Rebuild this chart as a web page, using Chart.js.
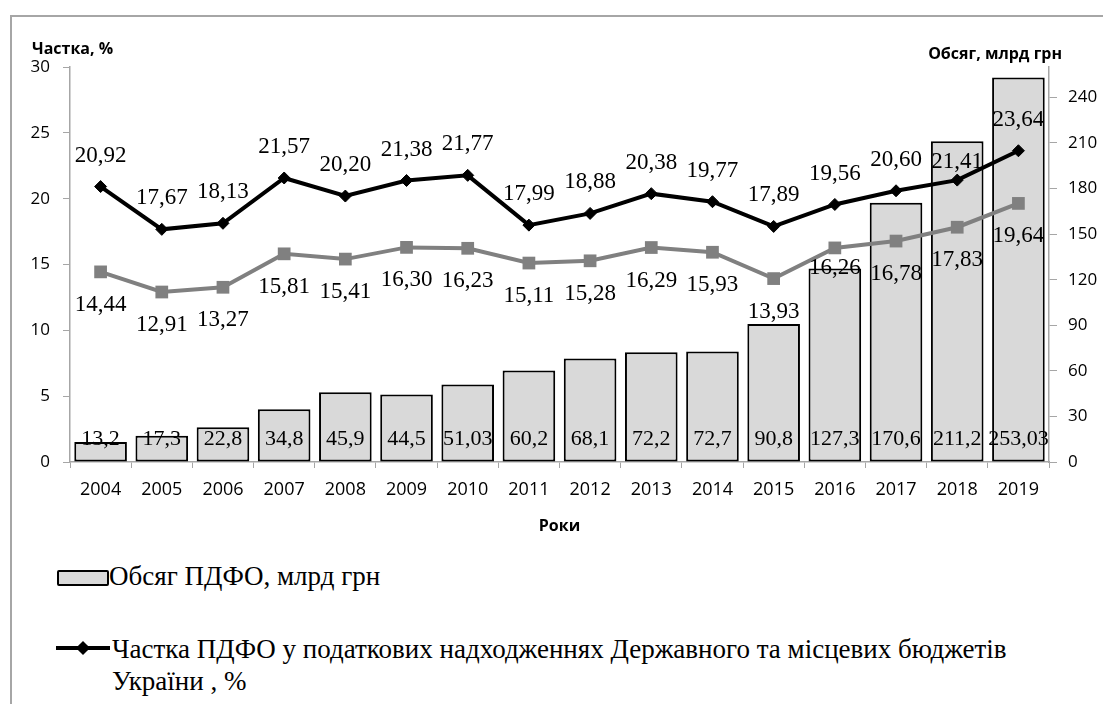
<!DOCTYPE html>
<html>
<head>
<meta charset="UTF-8">
<title>Обсяг і частка ПДФО</title>
<script src="https://cdn.jsdelivr.net/npm/chart.js@4.4.1/dist/chart.umd.min.js"></script>
<style>
    body { margin: 0; background: #fff; width: 1103px; height: 704px; overflow: hidden; position: relative; }
    #frame { position: absolute; left: 10px; top: 15px; width: 1300px; height: 900px;
             border-left: 2px solid #a6a6a6; border-top: 2px solid #a6a6a6; }
    #wrap { position: absolute; left: 0; top: 0; width: 1103px; height: 545px; }
    .leg { position: absolute; font-family: "Liberation Serif", serif; font-size: 27px; line-height: 32px; color: #000; white-space: nowrap; }
    .sw-bar { position: absolute; left: 57px; top: 570px; width: 48px; height: 12px; background: #d9d9d9; border: 2px solid #000; border-radius: 2px; }
    .sw-line { position: absolute; left: 56px; top: 646px; width: 54px; height: 4px; background: #000; }
    .sw-dia { position: absolute; left: 78px; top: 643px; width: 10px; height: 10px; background: #000; transform: rotate(45deg); }
</style>
<script>
    // data
    var years = ['2004', '2005', '2006', '2007', '2008', '2009', '2010', '2011',
                 '2012', '2013', '2014', '2015', '2016', '2017', '2018', '2019'];
    var volume = [13.2, 17.3, 22.8, 34.8, 45.9, 44.5, 51.03, 60.2, 68.1, 72.2, 72.7, 90.8, 127.3, 170.6, 211.2, 253.03];
    var shareBudget = [20.92, 17.67, 18.13, 21.57, 20.20, 21.38, 21.77, 17.99, 18.88, 20.38, 19.77, 17.89, 19.56, 20.60, 21.41, 23.64];
    var shareOther = [14.44, 12.91, 13.27, 15.81, 15.41, 16.30, 16.23, 15.11, 15.28, 16.29, 15.93, 13.93, 16.26, 16.78, 17.83, 19.64];
    var leftTicks = [0, 5, 10, 15, 20, 25, 30];
    var rightTicks = [0, 30, 60, 90, 120, 150, 180, 210, 240];

    var volumeLabel = 'Обсяг ПДФО, млрд грн';
    var shareBudgetLabel = 'Частка ПДФО у податкових надходженнях Державного та місцевих бюджетів України , %';
    var shareOtherLabel = 'Частка ПДФО, %';
    var leftTitle = 'Частка, %';
    var rightTitle = 'Обсяг, млрд грн';
    var xTitle = 'Роки';

    var sansFont = '"Open Sans", sans-serif';
    var serifFont = '"Liberation Serif", serif';
    var axisGray = '#a6a6a6';

    function fmt(v, digits) {
        var s = digits === undefined ? String(v) : v.toFixed(digits);
        return s.replace('.', ',');
    }

    // label placement relative to each mark (px); a couple of labels were moved by hand in the original
    var labelOpts = [
        { inBar: true, dy: -22, font: '22px ' + serifFont },
        { dy: -31, font: '23px ' + serifFont, digits: 2, shift: { 14: 13 } },
        { dy: 33, font: '23px ' + serifFont, digits: 2, shift: { 12: -13 } }
    ];

    var valueLabels = {
        id: 'valueLabels',
        afterDatasetsDraw: function (chart) {
            var ctx = chart.ctx;
            chart.data.datasets.forEach(function (ds, i) {
                var o = labelOpts[i];
                var meta = chart.getDatasetMeta(i);
                ctx.save();
                ctx.font = o.font;
                ctx.fillStyle = '#000';
                ctx.textAlign = 'center';
                ctx.textBaseline = 'middle';
                meta.data.forEach(function (el, j) {
                    var y = o.inBar ? el.base + o.dy : el.y + o.dy + ((o.shift && o.shift[j]) || 0);
                    ctx.fillText(fmt(ds.data[j], o.digits), el.x, y);
                });
                ctx.restore();
            });
        }
    };

    var axisTitles = {
        id: 'axisTitles',
        afterDraw: function (chart) {
            var ctx = chart.ctx;
            ctx.save();
            ctx.font = 'bold 16px ' + sansFont;
            ctx.fillStyle = '#000';
            ctx.textBaseline = 'middle';
            ctx.textAlign = 'left';
            ctx.fillText(leftTitle, 32, 49);
            ctx.textAlign = 'right';
            ctx.fillText(rightTitle, 1062, 54);
            ctx.restore();
        }
    };

    function ready(fn) {
        if (document.readyState !== 'loading') fn();
        else document.addEventListener('DOMContentLoaded', fn);
    }

    ready(function () {
        var ctx = document.getElementById('chart').getContext('2d');
        new Chart(ctx, {
            type: 'bar',
            data: {
                labels: years,
                datasets: [
                    {
                        label: volumeLabel,
                        data: volume,
                        yAxisID: 'y1',
                        backgroundColor: '#d9d9d9',
                        borderColor: '#000',
                        borderWidth: 2,
                        borderSkipped: false,
                        barPercentage: 0.86,
                        categoryPercentage: 1,
                        order: 3
                    },
                    {
                        type: 'line',
                        label: shareBudgetLabel,
                        data: shareBudget,
                        yAxisID: 'y',
                        borderColor: '#000',
                        backgroundColor: '#000',
                        borderWidth: 4,
                        pointStyle: 'rectRot',
                        pointRadius: 6,
                        pointBorderWidth: 1,
                        tension: 0,
                        order: 1
                    },
                    {
                        type: 'line',
                        label: shareOtherLabel,
                        data: shareOther,
                        yAxisID: 'y',
                        borderColor: '#808080',
                        backgroundColor: '#808080',
                        borderWidth: 4,
                        pointStyle: 'rect',
                        pointRadius: 9,
                        pointBorderWidth: 0,
                        tension: 0,
                        order: 2
                    }
                ]
            },
            options: {
                responsive: true,
                maintainAspectRatio: false,
                animation: false,
                layout: { padding: { top: 67, left: 0, right: 0, bottom: 0 } },
                plugins: {
                    legend: { display: false },
                    tooltip: { enabled: false }
                },
                scales: {
                    x: {
                        offset: true,
                        grid: { offset: true, drawOnChartArea: false, tickLength: 6, color: axisGray },
                        border: { color: axisGray, width: 1.5 },
                        ticks: { color: '#000', font: { family: sansFont, size: 18 }, padding: 11, maxRotation: 0 },
                        title: { display: true, text: xTitle, color: '#000', font: { family: sansFont, size: 16, weight: 'bold' }, padding: { top: 6, bottom: 9 } },
                        afterFit: function (s) { s.height = 83; }
                    },
                    y: {
                        position: 'left',
                        min: leftTicks[0],
                        max: leftTicks[leftTicks.length - 1],
                        afterBuildTicks: function (s) { s.ticks = leftTicks.map(function (v) { return { value: v }; }); },
                        grid: { drawOnChartArea: false, tickLength: 7, color: axisGray },
                        border: { color: axisGray, width: 1.5 },
                        ticks: { color: '#000', font: { family: sansFont, size: 17 }, padding: 13 },
                        afterFit: function (s) { s.width = 70; }
                    },
                    y1: {
                        position: 'right',
                        min: 0,
                        max: 260,
                        afterBuildTicks: function (s) { s.ticks = rightTicks.map(function (v) { return { value: v }; }); },
                        grid: { drawOnChartArea: false, tickLength: 8, color: axisGray },
                        border: { color: axisGray, width: 1.5 },
                        ticks: { color: '#000', font: { family: sansFont, size: 17 }, padding: 11 },
                        afterFit: function (s) { s.width = 54; }
                    }
                }
            },
            plugins: [valueLabels, axisTitles]
        });
    });
</script>
</head>
<body>
    <div id="frame"></div>
    <div id="wrap"><canvas id="chart"></canvas></div>
    <div class="sw-bar"></div>
    <div class="leg" style="left:109px; top:560px;">Обсяг ПДФО, млрд грн</div>
    <div class="sw-line"></div>
    <div class="sw-dia"></div>
    <div class="leg" style="left:112px; top:633px;">Частка ПДФО у податкових надходженнях Державного та місцевих бюджетів<br>України , %</div>
</body>
</html>
